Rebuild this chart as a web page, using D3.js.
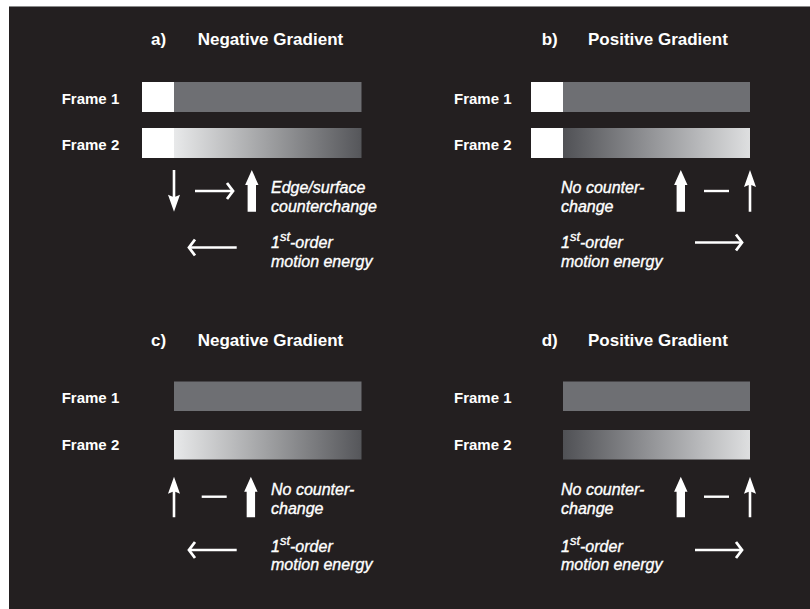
<!DOCTYPE html>
<html><head><meta charset="utf-8">
<script src="https://cdn.jsdelivr.net/npm/d3@7"></script>
<style>
html,body{margin:0;padding:0;background:#fff;}
svg{display:block;}
text{font-family:"Liberation Sans",Arial,Helvetica,sans-serif;fill:#fff;}
text.it{stroke:#fff;stroke-width:0.35px;}
</style></head>
<body>
<svg id="c" width="810" height="609"></svg>
<script>
// ---------- data ----------
const panelLetters = ["a)", "b)", "c)", "d)"];
const panelTitles = ["Negative Gradient", "Positive Gradient", "Negative Gradient", "Positive Gradient"];
const frameLabels = ["Frame 1", "Frame 2"];
const gradientSign = [-1, 1, -1, 1];            // -1: light→dark, +1: dark→light
const whiteSquare = [true, true, false, false];  // white square left of the bars
const edgeArrow = ["down", "up", "up", "up"];    // thin arrow at the bar's light end
const surfaceArrow = ["up", "up", "up", "up"];   // thick arrow over the surface
const connector = ["right", "none", "none", "none"]; // arrow or dash between them
const counterText = [["Edge/surface", "counterchange"], ["No counter-", "change"],
                     ["No counter-", "change"], ["No counter-", "change"]];
const motionDir = ["left", "right", "left", "right"];
const motionText = ["1", "st", "-order", "motion energy"];
const surfacePos = [0.415, 0.63, 0.41, 0.63];   // surface arrow position along bar (0..1)

// ---------- layout ----------
const svg = d3.select("#c");
const cols = [
  {letter:151, title:197.7, label:61.7, bar:[174,361.5], white:32, text:271, conn:[195,233], dash:[201.7,226.7], motion:[189,236.7]},
  {letter:541.7, title:588, label:454, bar:[563,750], white:32, text:561, conn:[704,729], dash:[704,729], motion:[695,742]}
];
const rows = [
  {title:45, bar1:82, bar2:128, barH:30, lab1:103.5, lab2:150, arrTop:170, arrBot:211.7, conn:191,
   txt:[192.5,211.5], motionY:[247.5,242.5], mtxt:[247.5,266.5]},
  {title:346, bar1:381.5, bar2:430, barH:29.5, lab1:403, lab2:450, arrTop:476.7, arrBot:517.3, conn:496.7,
   txt:[495,513.5], motionY:[550,550], mtxt:[551.5,570]}
];

// background
svg.append("rect").attr("x",9).attr("y",6).attr("width",801).attr("height",603).attr("fill","#231f20");
svg.append("line").attr("x1",9).attr("x2",810).attr("y1",6.5).attr("y2",6.5).attr("stroke","#8a8a8a").attr("stroke-width",1);

const defs = svg.append("defs");
const gradStops = {neg:["#e8e9ea","#55565a"], pos:["#505155","#dedfe0"]};
Object.entries(gradStops).forEach(([k,c])=>{
  const g = defs.append("linearGradient").attr("id","g-"+k).attr("x1","0").attr("x2","1").attr("y1","0").attr("y2","0");
  g.append("stop").attr("offset","0").attr("stop-color",c[0]);
  g.append("stop").attr("offset","0.5").attr("stop-color",d3.interpolateRgb(c[0],c[1])(0.5));
  g.append("stop").attr("offset","1").attr("stop-color",c[1]);
});

const frame1Gray = "#6e6f73";

function thinArrow(g, x, yTop, yBot, dir){
  const hl = 17, hw = 6, sw = 1.3;
  let p;
  if(dir==="up"){
    p = `M${x},${yTop} L${x+hw},${yTop+hl} L${x+sw},${yTop+hl-2} L${x+sw},${yBot} L${x-sw},${yBot} L${x-sw},${yTop+hl-2} L${x-hw},${yTop+hl} Z`;
  } else {
    p = `M${x},${yBot} L${x+hw},${yBot-hl} L${x+sw},${yBot-hl+2} L${x+sw},${yTop} L${x-sw},${yTop} L${x-sw},${yBot-hl+2} L${x-hw},${yBot-hl} Z`;
  }
  g.append("path").attr("d",p).attr("fill","#fff");
}
function thickArrow(g, x, yTop, yBot){
  const hl = 15, hw = 6.7, sw = 4.2;
  const p = `M${x},${yTop} L${x+hw},${yTop+hl} L${x+sw},${yTop+hl} L${x+sw},${yBot} L${x-sw},${yBot} L${x-sw},${yTop+hl} L${x-hw},${yTop+hl} Z`;
  g.append("path").attr("d",p).attr("fill","#fff");
}
function hArrow(g, x0, x1, y, dir){
  const tip = dir==="right" ? x1 : x0;
  const back = dir==="right" ? -6 : 6;
  g.append("line").attr("x1",x0).attr("x2",x1).attr("y1",y).attr("y2",y)
    .attr("stroke","#fff").attr("stroke-width",2.4);
  g.append("path").attr("d",`M${tip+back},${y-8} L${tip},${y} L${tip+back},${y+8}`)
    .attr("fill","none").attr("stroke","#fff").attr("stroke-width",2.8).attr("stroke-linejoin","miter");
}

panelLetters.forEach((letter,i)=>{
  const col = cols[i%2], row = rows[Math.floor(i/2)];
  const g = svg.append("g");
  const x = d3.scaleLinear().domain([0,1]).range(col.bar);

  // titles
  g.append("text").attr("x",col.letter).attr("y",row.title).attr("font-size",17).attr("font-weight","bold").text(letter);
  g.append("text").attr("x",col.title).attr("y",row.title).attr("font-size",17).attr("font-weight","bold").text(panelTitles[i]);

  // frame labels
  frameLabels.forEach((lab,k)=>{
    g.append("text").attr("x",col.label).attr("y",k===0?row.lab1:row.lab2)
      .attr("font-size",15).attr("font-weight","bold").text(lab);
  });

  // bars
  const x0 = x(0), x1 = x(1);
  const wsq = whiteSquare[i] ? col.white : 0;
  g.append("rect").attr("x",x0).attr("y",row.bar1).attr("width",x1-x0).attr("height",row.barH).attr("fill",frame1Gray);
  g.append("rect").attr("x",x0).attr("y",row.bar2).attr("width",x1-x0).attr("height",row.barH)
    .attr("fill",`url(#g-${gradientSign[i]<0?"neg":"pos"})`);
  if(wsq){
    [row.bar1,row.bar2].forEach(yy=>{
      g.append("rect").attr("x",x0-wsq).attr("y",yy).attr("width",wsq).attr("height",row.barH).attr("fill","#fff");
    });
  }

  // arrows
  const edgeU = gradientSign[i]<0 ? 0 : 1;
  thinArrow(g, x(edgeU), row.arrTop, row.arrBot, edgeArrow[i]);
  thickArrow(g, x(surfacePos[i]), row.arrTop, row.arrBot);
  if(connector[i]==="right"){
    hArrow(g, col.conn[0], col.conn[1], row.conn, "right");
  } else {
    g.append("line").attr("x1",col.dash[0]).attr("x2",col.dash[1]).attr("y1",row.conn).attr("y2",row.conn)
      .attr("stroke","#fff").attr("stroke-width",2.4);
  }

  // counterchange text
  counterText[i].forEach((t,k)=>{
    g.append("text").attr("class","it").attr("x",col.text).attr("y",row.txt[k]).attr("font-size",16)
      .attr("font-style","italic").text(t);
  });

  // motion
  hArrow(g, col.motion[0], col.motion[1], row.motionY[i%2], motionDir[i]);
  const t1 = g.append("text").attr("class","it").attr("x",col.text).attr("y",row.mtxt[0]).attr("font-size",16).attr("font-style","italic");
  t1.append("tspan").text(motionText[0]);
  t1.append("tspan").attr("dy",-6.5).attr("font-size",13).text(motionText[1]);
  t1.append("tspan").attr("dy",6.5).text(motionText[2]);
  g.append("text").attr("class","it").attr("x",col.text).attr("y",row.mtxt[1]).attr("font-size",16).attr("font-style","italic").text(motionText[3]);
});
</script>
</body></html>
